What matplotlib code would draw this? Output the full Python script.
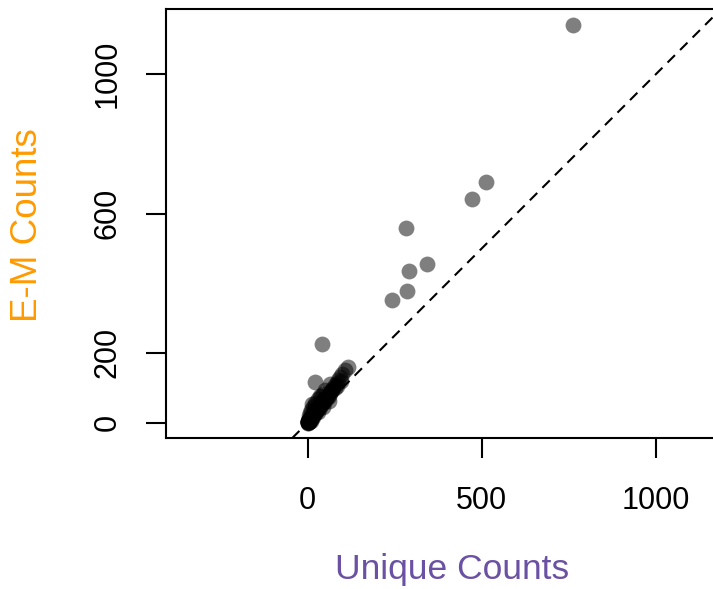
import numpy as np
import matplotlib.pyplot as plt

plt.rcParams['font.family'] = ['Liberation Sans', 'DejaVu Sans']

# read-off values: unique-read counts vs E-M counts
unique_counts = [
    762, 511, 471, 282, 342, 292, 286, 241, 40, 21,
    0, 0, 1, 1, 2, 2, 3, 3, 4, 5, 5, 6, 7, 8, 9, 10,
    11, 12, 13, 14, 15, 16, 18, 19, 20, 22, 24, 25, 27, 28, 30, 32,
    34, 36, 38, 40, 42, 44, 46, 48, 50, 53, 55, 58, 60, 63, 66, 70,
    74, 78, 83, 88, 93, 100, 108, 116, 10, 15, 22, 30, 38, 45, 5, 8,
    0, 1, 2, 3, 4, 6, 7, 9, 78, 85, 95,
    30, 45, 60, 20, 50, 35, 65, 12,
]
em_counts = [
    1141, 690, 643, 560, 455, 436, 378, 353, 225, 116,
    0, 2, 1, 4, 3, 6, 2, 8, 5, 4, 10, 9, 12, 8, 14, 11,
    18, 16, 20, 15, 22, 25, 24, 30, 28, 33, 30, 38, 36, 42, 40, 48,
    45, 52, 50, 58, 55, 62, 60, 68, 66, 72, 70, 80, 76, 85, 90, 94,
    100, 108, 115, 122, 132, 140, 150, 160, 35, 45, 55, 68, 75, 82, 20, 28,
    1, 0, 1, 4, 2, 5, 7, 6, 100, 105, 118,
    30, 45, 62, 50, 95, 75, 110, 52,
]

x_ticks = [0, 500, 1000]
y_ticks = [0, 200, 600, 1000]

fig = plt.figure(figsize=(7.13, 5.89), dpi=100)
ax = fig.add_axes([0.2328, 0.2559, 0.791, 0.728])

ax.scatter(unique_counts, em_counts, s=130, c='black', alpha=0.5, linewidths=0)
# y = x reference line
ax.axline((0, 0), slope=1, color='black', lw=1.5, linestyle=(0, (5, 3.5)))

ax.set_xlim(-407, 1213)
ax.set_ylim(-45, 1186)

ax.set_xticks(x_ticks)
ax.set_yticks(y_ticks)
ax.tick_params(axis='both', direction='out', length=14.4, width=1.5,
               labelsize=22)
ax.tick_params(axis='x', pad=20)
ax.tick_params(axis='y', pad=17)
for lab in ax.get_yticklabels():
    lab.set_rotation(90)
    lab.set_va('center')

for sp in ax.spines.values():
    sp.set_linewidth(1.5)

fig.text(452 / 713, (589 - 579) / 589, 'Unique Counts', color='#6a51a3',
         fontsize=25.5, ha='center', va='baseline')
fig.text(28 / 713, (589 - 225) / 589, 'E-M Counts', color='#ff9a00',
         fontsize=26.5, ha='center', va='center', rotation=90)

fig.savefig('out.png', dpi=100)
